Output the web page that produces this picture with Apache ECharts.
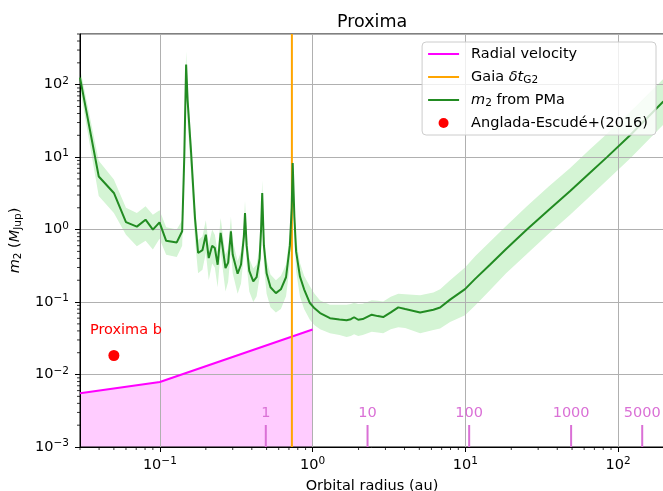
<!DOCTYPE html>
<html>
<head>
<meta charset="utf-8">
<script src="https://cdn.jsdelivr.net/npm/echarts@6/dist/echarts.min.js"></script>
<style>
  html, body { margin: 0; padding: 0; background: #fff; }
  #chart { width: 663px; height: 491px; }
</style>
</head>
<body>
<div id="chart"></div>
<script>
const FONT = 'DejaVu Sans'
const FS = 14.5
const X_MIN = 0.03, X_MAX = 200
const Y_MIN = 1e-3, Y_MAX = 500

// m2 from PMa (au, M_Jup)
const pmaRadius = [0.030, 0.0398, 0.050, 0.060, 0.0707, 0.0806, 0.090, 0.0995, 0.110, 0.129,
  0.140, 0.1445, 0.1486, 0.152, 0.160, 0.170, 0.178, 0.190, 0.200, 0.209,
  0.220, 0.229, 0.239, 0.250, 0.269, 0.280, 0.292, 0.300, 0.323, 0.340,
  0.355, 0.361, 0.370, 0.385, 0.409, 0.430, 0.450, 0.460, 0.468, 0.480,
  0.500, 0.530, 0.575, 0.620, 0.670, 0.710, 0.730, 0.741, 0.760, 0.780,
  0.826, 0.880, 0.960, 1.03, 1.12, 1.30, 1.50, 1.67, 1.78, 1.87,
  1.99, 2.13, 2.44, 2.67, 2.90, 3.25, 3.64, 4.04, 5.06, 6.18,
  6.84, 7.95, 9.96, 11.6, 14.5, 18.5, 25.3, 35.0, 48.6, 65.0,
  84.7, 120, 198]
const pmaMass = [125, 5.4, 3.2, 1.27, 1.10, 1.37, 1.00, 1.26, 0.70, 0.665,
  0.95, 10, 190, 60, 12, 1.4, 0.475, 0.52, 0.85, 0.405,
  0.60, 0.557, 0.327, 0.90, 0.295, 0.35, 0.946, 0.45, 0.246, 0.33,
  0.8, 1.69, 0.6, 0.27, 0.193, 0.22, 0.40, 1.0, 3.2, 0.6,
  0.25, 0.16, 0.133, 0.15, 0.22, 0.6, 2.0, 8.3, 1.5, 0.5,
  0.226, 0.15, 0.097, 0.082, 0.0705, 0.060, 0.0575, 0.056, 0.058, 0.0617,
  0.057, 0.0583, 0.067, 0.064, 0.062, 0.072, 0.0845, 0.080, 0.072, 0.0785,
  0.084, 0.108, 0.151, 0.209, 0.327, 0.54, 1.0, 1.85, 3.4, 6.0,
  10, 20, 58.7]
const pmaLow = [90, 2.9, 1.7, 0.85, 0.59, 0.70, 0.53, 0.75, 0.45, 0.42,
  0.60, 5, 120, 30, 6, 0.7, 0.25, 0.28, 0.48, 0.2,
  0.34, 0.3, 0.16, 0.5, 0.14, 0.19, 0.52, 0.25, 0.13, 0.18,
  0.45, 0.9, 0.33, 0.14, 0.1, 0.12, 0.22, 0.55, 1.7, 0.32,
  0.13, 0.085, 0.072, 0.08, 0.12, 0.32, 1.1, 4.5, 0.8, 0.27,
  0.12, 0.08, 0.057, 0.048, 0.042, 0.037, 0.035, 0.033, 0.034, 0.036,
  0.034, 0.035, 0.039, 0.038, 0.037, 0.042, 0.045, 0.044, 0.037, 0.041,
  0.043, 0.053, 0.066, 0.09, 0.145, 0.25, 0.46, 0.87, 1.6, 2.85,
  4.8, 9.6, 28]
const pmaHigh = [170, 8.9, 4.9, 2.0, 1.7, 2.1, 1.6, 1.85, 1.08, 1.0,
  1.35, 16, 290, 95, 18, 2.1, 0.72, 0.8, 1.35, 0.62,
  1.0, 0.85, 0.5, 1.45, 0.45, 0.55, 1.5, 0.7, 0.37, 0.5,
  1.2, 2.5, 0.9, 0.4, 0.29, 0.33, 0.6, 1.5, 4.8, 0.9,
  0.38, 0.24, 0.2, 0.23, 0.33, 0.9, 3.0, 12, 2.3, 0.75,
  0.35, 0.23, 0.165, 0.13, 0.105, 0.092, 0.092, 0.092, 0.094, 0.098,
  0.094, 0.095, 0.106, 0.104, 0.102, 0.118, 0.13, 0.128, 0.124, 0.136,
  0.15, 0.2, 0.3, 0.43, 0.68, 1.12, 2.1, 3.9, 7.1, 12.6,
  21, 42, 120]

// radial velocity detection limit
const rvRadius = [0.03, 0.1, 1.0]
const rvMass = [0.0055, 0.0079, 0.0418]

const gaiaRadius = 0.732
const proximaB = [0.05, 0.0183]

// orbital periods marked along the bottom
const periodRadius = [0.494, 2.29, 10.6, 49.3, 144]
const periodLabels = ['1', '10', '100', '1000', '5000']

const minorSteps = [2, 3, 4, 5, 6, 7, 8, 9]
const xDecades = [0.01, 0.1, 1, 10, 100]
const yDecades = [1e-3, 1e-2, 1e-1, 1, 10, 100]

const xMinor = []
xDecades.forEach(d => minorSteps.forEach(m => {
  const v = m * d
  if (v >= X_MIN && v <= X_MAX) xMinor.push([v, Y_MIN])
}))
const yMinor = []
yDecades.forEach(d => minorSteps.forEach(m => {
  const v = m * d
  if (v >= Y_MIN && v <= Y_MAX) yMinor.push([X_MIN, v])
}))

function powLabel(v) {
  const e = Math.log10(v)
  const r = Math.round(e)
  if (Math.abs(e - r) > 1e-6) return ''
  return '{b|10}{s|' + (r < 0 ? '\u2212' + (-r) : r) + '}'
}

const powRich = {
  b: { fontFamily: FONT, fontSize: FS, lineHeight: 18, verticalAlign: 'middle', color: '#000' },
  s: { fontFamily: FONT, fontSize: 10.5, lineHeight: 10, verticalAlign: 'top', color: '#000' }
}

const mathRich = {
  t: { fontFamily: FONT, fontSize: FS, lineHeight: 18, verticalAlign: 'middle', color: '#000' },
  i: { fontFamily: FONT, fontSize: FS, lineHeight: 18, verticalAlign: 'middle', fontStyle: 'italic', color: '#000' },
  sub: { fontFamily: FONT, fontSize: 10.5, lineHeight: 10, verticalAlign: 'bottom', color: '#000' }
}

const legendText = {
  'Radial velocity': '{t|Radial velocity}',
  'Gaia': '{t|Gaia }{i|\u03b4t}{sub|G2}',
  'PMa': '{i|m}{sub|2}{t| from PMa}',
  'Anglada': '{t|Anglada-Escud\u00e9+(2016)}'
}

const chart = echarts.init(document.getElementById('chart'))

chart.setOption({
  animation: false,
  title: {
    text: 'Proxima', left: 332, top: 8,
    textStyle: { fontFamily: FONT, fontSize: 17.5, fontWeight: 'normal', color: '#000' }
  },
  grid: {
    left: 80, right: -1, top: 34, bottom: 44,
    containLabel: false, outerBoundsMode: 'none',
    show: true, borderColor: '#000', borderWidth: 1, backgroundColor: 'transparent'
  },
  legend: {
    data: [
      { name: 'Radial velocity', itemStyle: { opacity: 0 } },
      { name: 'Gaia', itemStyle: { opacity: 0 } },
      { name: 'PMa', itemStyle: { opacity: 0 } },
      { name: 'Anglada' }
    ],
    orient: 'vertical', right: 7, top: 42,
    itemWidth: 31, itemHeight: 10, itemGap: 5,
    padding: [3, 8, 3, 5],
    backgroundColor: 'rgba(255,255,255,0.8)',
    borderColor: '#cccccc', borderWidth: 1, borderRadius: 4,
    formatter: name => legendText[name],
    textStyle: { fontFamily: FONT, fontSize: FS, lineHeight: 18, color: '#000', padding: [0, 0, 0, 7], rich: mathRich }
  },
  xAxis: {
    type: 'log', logBase: 10, min: X_MIN, max: X_MAX,
    name: 'Orbital radius (au)', nameLocation: 'middle', nameGap: 32,
    nameTextStyle: { fontFamily: FONT, fontSize: FS, color: '#000' },
    axisLine: { lineStyle: { color: '#000', width: 1 } },
    axisTick: { length: 5, lineStyle: { color: '#000', width: 1 } },
    axisLabel: { margin: 9, formatter: powLabel, rich: powRich, showMinLabel: false, showMaxLabel: false },
    splitLine: { show: true, lineStyle: { color: '#b0b0b0', width: 1 } }
  },
  yAxis: {
    type: 'log', logBase: 10, min: Y_MIN, max: Y_MAX,
    name: '{i|m}{sub|2}{t| (}{i|M}{sub|Jup}{t|)}', nameLocation: 'middle', nameGap: 53, nameRotate: 90,
    nameTextStyle: { fontFamily: FONT, fontSize: FS, color: '#000', rich: mathRich },
    axisLine: { lineStyle: { color: '#000', width: 1 } },
    axisTick: { length: 5, lineStyle: { color: '#000', width: 1 } },
    axisLabel: { margin: 11, formatter: powLabel, rich: powRich, showMaxLabel: false },
    splitLine: { show: true, lineStyle: { color: '#b0b0b0', width: 1 } }
  },
  series: [
    {
      type: 'custom', name: 'pmaBand', z: -1, silent: true,
      data: [[pmaRadius[0], pmaMass[0]]],
      renderItem: (params, api) => {
        const pts = pmaRadius.map((x, i) => api.coord([x, pmaHigh[i]]))
        for (let i = pmaRadius.length - 1; i >= 0; i--) pts.push(api.coord([pmaRadius[i], pmaLow[i]]))
        return { type: 'polygon', shape: { points: pts }, style: { fill: '#d4f4d4' } }
      }
    },
    {
      type: 'line', name: 'rvFill', z: -1, silent: true, symbol: 'none',
      data: rvRadius.map((x, i) => [x, rvMass[i]]),
      lineStyle: { width: 0 },
      areaStyle: { origin: 'start', color: '#ffccff', opacity: 1 }
    },
    {
      type: 'line', name: 'Radial velocity', symbol: 'none',
      data: rvRadius.map((x, i) => [x, rvMass[i]]),
      lineStyle: { color: '#ff00ff', width: 2 }, itemStyle: { color: '#ff00ff' }
    },
    {
      type: 'line', name: 'Gaia', symbol: 'none',
      data: [[gaiaRadius, Y_MIN], [gaiaRadius, Y_MAX]],
      lineStyle: { color: '#ffa500', width: 2 }, itemStyle: { color: '#ffa500' }
    },
    {
      type: 'line', name: 'PMa', symbol: 'none',
      data: pmaRadius.map((x, i) => [x, pmaMass[i]]),
      lineStyle: { color: '#228b22', width: 2 }, itemStyle: { color: '#228b22' }
    },
    {
      type: 'scatter', name: 'Anglada', symbolSize: 11,
      data: [proximaB],
      itemStyle: { color: '#ff0000', opacity: 1 },
      label: {
        show: true, formatter: 'Proxima b', position: 'top', distance: 12, offset: [12, 0],
        fontFamily: FONT, fontSize: FS, color: '#ff0000'
      }
    },
    {
      type: 'custom', name: 'periods', silent: true, z: 3,
      data: periodRadius.map(x => [x, Y_MIN]),
      renderItem: (params, api) => {
        const p = api.coord([api.value(0), api.value(1)])
        return {
          type: 'group',
          children: [
            { type: 'line', shape: { x1: p[0], y1: p[1] - 22, x2: p[0], y2: p[1] }, style: { stroke: '#da70d6', lineWidth: 2 } },
            {
              type: 'text', x: p[0], y: p[1] - 34,
              style: { text: periodLabels[params.dataIndex], fill: '#da70d6', font: FS + 'px "DejaVu Sans"', align: 'center', verticalAlign: 'middle' }
            }
          ]
        }
      }
    },
    {
      type: 'custom', name: 'xMinorTicks', silent: true,
      data: xMinor,
      renderItem: (params, api) => {
        const p = api.coord([api.value(0), api.value(1)])
        return { type: 'line', shape: { x1: p[0], y1: p[1], x2: p[0], y2: p[1] + 3 }, style: { stroke: '#000', lineWidth: 0.8 } }
      }
    },
    {
      type: 'custom', name: 'yMinorTicks', silent: true,
      data: yMinor,
      renderItem: (params, api) => {
        const p = api.coord([api.value(0), api.value(1)])
        return { type: 'line', shape: { x1: p[0], y1: p[1], x2: p[0] - 3, y2: p[1] }, style: { stroke: '#000', lineWidth: 0.8 } }
      }
    }
  ]
})
</script>
</body>
</html>
